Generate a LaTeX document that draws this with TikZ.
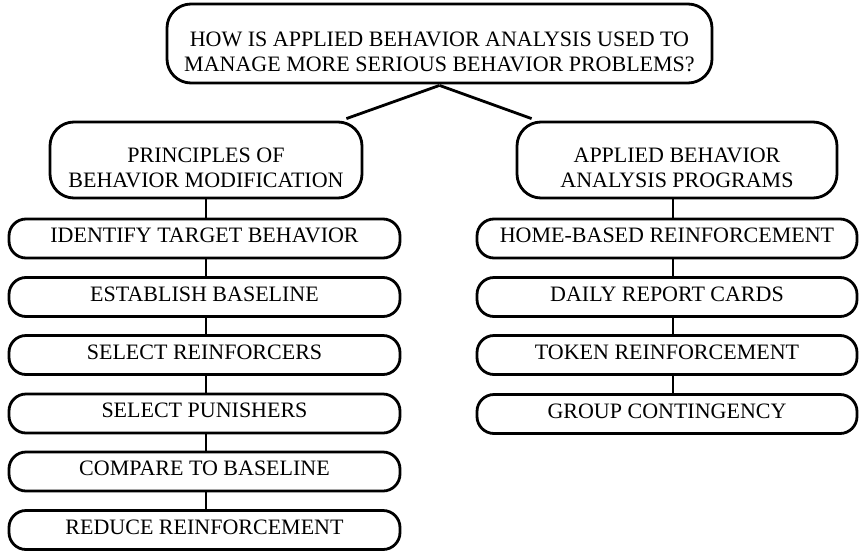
\documentclass[tikz,border=0pt]{standalone}
\usepackage{fontspec}
\setmainfont{Liberation Serif}
\begin{document}
\begin{tikzpicture}[x=1pt,y=-1pt,
  every node/.style={font=\fontsize{22}{25}\selectfont, inner sep=0pt, align=center},
  box/.style={draw, line width=2.8pt, rounded corners=24pt, rectangle},
  boxtext/.style={},
  stepbox/.style={draw, line width=2.8pt, rounded corners=17pt, rectangle,
    minimum height=39pt, text depth=6pt},
  link/.style={line width=2.8pt}]
\useasboundingbox (0,0) rectangle (859,552);

% question at the top
\node[box, minimum width=545pt, minimum height=79pt] (top) at (439.5,43.5) {};
\node[boxtext] (topT) at ([yshift=-8pt]top.center)
  {HOW IS APPLIED BEHAVIOR ANALYSIS USED TO\\MANAGE MORE SERIOUS BEHAVIOR PROBLEMS?};

% two branch headings
\node[box, minimum width=312pt, minimum height=76pt] (prin) at (206,160) {};
\node[boxtext] (prinT) at ([yshift=-8pt]prin.center)
  {PRINCIPLES OF\\BEHAVIOR MODIFICATION};
\node[box, minimum width=320pt, minimum height=76pt] (prog) at (677,160) {};
\node[boxtext] (progT) at ([yshift=-8pt]prog.center)
  {APPLIED BEHAVIOR\\ANALYSIS PROGRAMS};

% left column steps
\node[stepbox, minimum width=391pt] (l1) at (204.5,238.5) {IDENTIFY TARGET BEHAVIOR};
\node[stepbox, minimum width=391pt] (l2) at (204.5,297) {ESTABLISH BASELINE};
\node[stepbox, minimum width=391pt] (l3) at (204.5,355) {SELECT REINFORCERS};
\node[stepbox, minimum width=391pt] (l4) at (204.5,413.5) {SELECT PUNISHERS};
\node[stepbox, minimum width=391pt] (l5) at (204.5,471.5) {COMPARE TO BASELINE};
\node[stepbox, minimum width=391pt] (l6) at (204.5,530) {REDUCE REINFORCEMENT};

% right column programs
\node[stepbox, minimum width=380pt] (r1) at (667,238.5) {HOME-BASED REINFORCEMENT};
\node[stepbox, minimum width=380pt] (r2) at (667,297) {DAILY REPORT CARDS};
\node[stepbox, minimum width=380pt] (r3) at (667,355) {TOKEN REINFORCEMENT};
\node[stepbox, minimum width=380pt] (r4) at (667,414) {GROUP CONTINGENCY};

% branches from the question
\draw[link] ([yshift=-1pt]top.south) -- ([xshift=-17pt,yshift=2pt]prin.north east);
\draw[link] ([yshift=-1pt]top.south) -- ([xshift=16pt,yshift=2pt]prog.north west);

% vertical chains
\draw[link] (prin.south) -- (prin.south |- l1.north);
\foreach \a/\b in {l1/l2,l2/l3,l3/l4,l4/l5,l5/l6}
  \draw[link] (prin.south |- \a.south) -- (prin.south |- \b.north);
\draw[link] ([xshift=-4pt]prog.south) -- ([xshift=-4pt]prog.south |- r1.north);
\foreach \a/\b in {r1/r2,r2/r3,r3/r4}
  \draw[link] ([xshift=-4pt]prog.south |- \a.south) -- ([xshift=-4pt]prog.south |- \b.north);
\end{tikzpicture}
\end{document}
